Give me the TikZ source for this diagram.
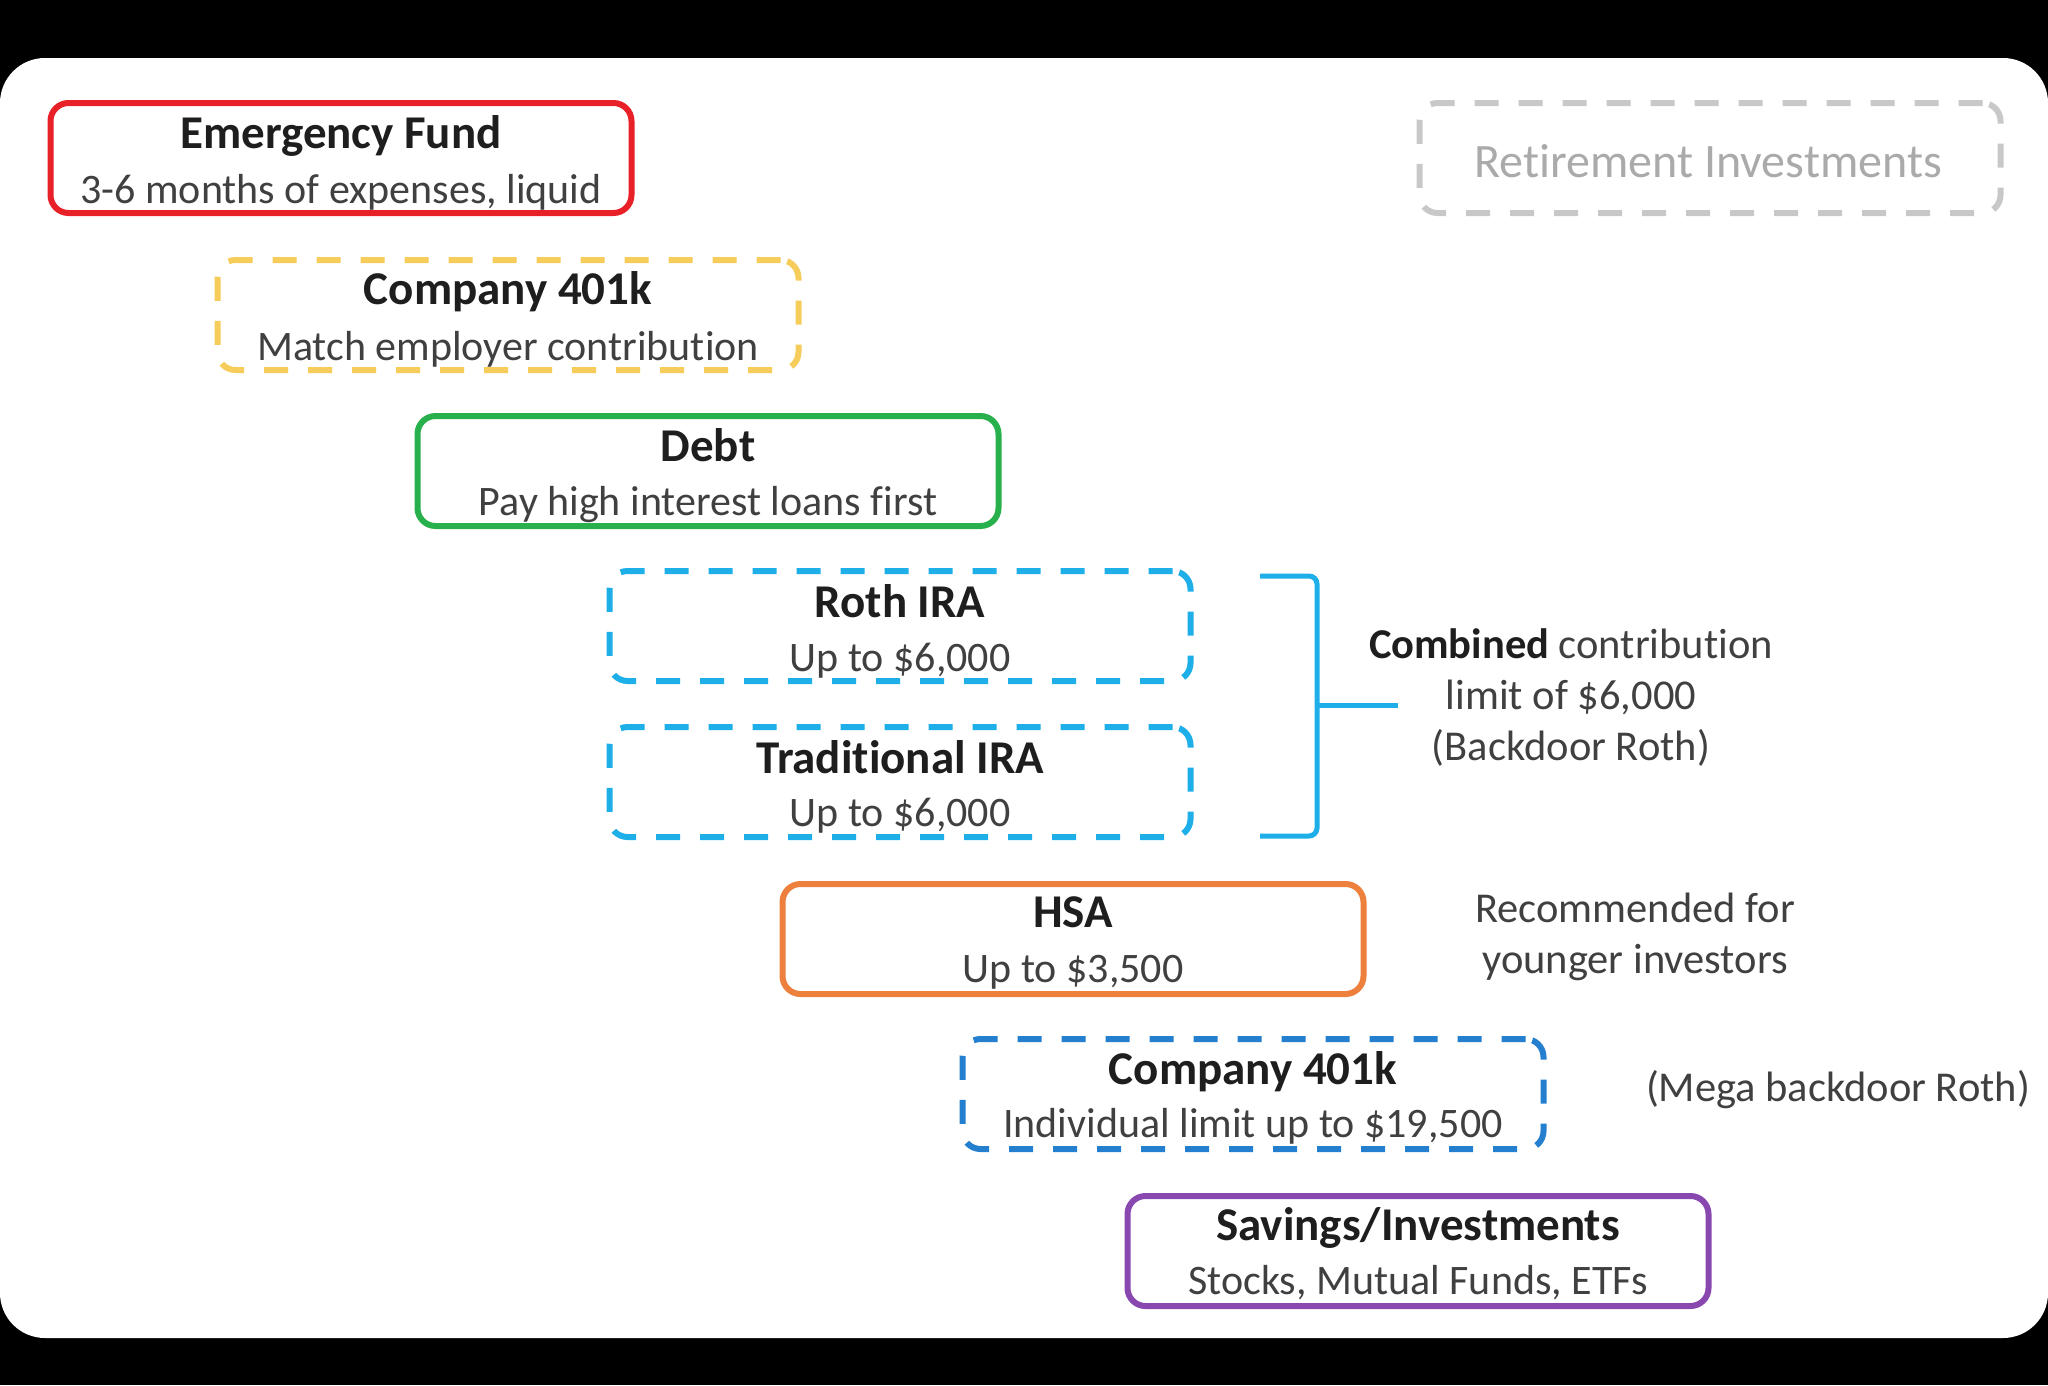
\documentclass[tikz,border=0pt]{standalone}
\usepackage{fontspec}
\setmainfont[Ligatures=NoCommon]{Carlito}
\definecolor{cred}{RGB}{232,32,40}
\definecolor{cyel}{RGB}{246,205,90}
\definecolor{cgreen}{RGB}{40,176,76}
\definecolor{clblue}{RGB}{30,174,232}
\definecolor{corange}{RGB}{237,128,60}
\definecolor{cblue}{RGB}{36,128,206}
\definecolor{cpurple}{RGB}{136,72,176}
\definecolor{cgray}{RGB}{200,200,200}
\definecolor{ctitle}{RGB}{30,30,30}
\definecolor{csub}{RGB}{64,64,64}
\begin{document}
\begin{tikzpicture}[x=1pt,y=-1pt,
  box/.style={draw, line width=6pt, rounded corners=18pt, minimum width=581pt, minimum height=110pt, inner sep=0pt},
  dashbox/.style={box, dash pattern=on 24pt off 20pt},
  ttl/.style={font=\fontsize{47}{52}\selectfont\bfseries, text=ctitle, inner sep=0pt, anchor=base},
  sub/.style={font=\fontsize{42}{48}\selectfont, text=csub, inner sep=0pt, anchor=base},
  note/.style={font=\fontsize{42.5}{51}\selectfont, text=csub, inner sep=0pt, align=center}
]
\useasboundingbox (0,0) rectangle (2048,1385);
\fill[black] (0,0) rectangle (2048,1385);
\fill[white, rounded corners=45pt] (0,58) rectangle (2048,1338);

% boxes
\node[box, draw=cred] (ef) at (341,158) {};
\node[ttl] (eft) at (341,148) {Emergency Fund};
\node[sub] (efs) at (341,203) {3-6 months of expenses, liquid};

\node[dashbox, draw=cyel] (ck) at (508,315) {};
\node[ttl] (ckt) at (508,304) {Company 401k};
\node[sub] (cks) at (508,360) {Match employer contribution};

\node[box, draw=cgreen] (debt) at (708,471) {};
\node[ttl] (debtt) at (708,461) {Debt};
\node[sub] (debts) at (708,515) {Pay high interest loans first};

\node[dashbox, draw=clblue] (roth) at (900,626) {};
\node[ttl] (rotht) at (900,617) {Roth IRA};
\node[sub] (roths) at (900,671) {Up to \$6,000};

\node[dashbox, draw=clblue] (trad) at (900,782) {};
\node[ttl] (tradt) at (900,773) {Traditional IRA};
\node[sub] (trads) at (900,826) {Up to \$6,000};

\node[box, draw=corange] (hsa) at (1073,939) {};
\node[ttl] (hsat) at (1073,927) {HSA};
\node[sub] (hsas) at (1073,982) {Up to \$3,500};

\node[dashbox, draw=cblue] (ck2) at (1253,1094) {};
\node[ttl] (ck2t) at (1253,1084) {Company 401k};
\node[sub] (ck2s) at (1253,1137) {Individual limit up to \$19,500};

\node[box, draw=cpurple] (sav) at (1418,1251) {};
\node[ttl] (savt) at (1418,1240) {Savings/Investments};
\node[sub] (savs) at (1418,1294) {Stocks, Mutual Funds, ETFs};

\node[dashbox, draw=cgray] (ret) at (1710,158) {};
\node[font=\fontsize{48}{54}\selectfont, text=cgray!85!black, inner sep=0pt] (rett) at (1708,161) {Retirement Investments};

% bracket
\coordinate (bt) at (1260,576);
\coordinate (bb) at (1260,836);
\coordinate (btip) at (1398,705);
\draw[clblue, line width=5pt, rounded corners=8pt] (bt) -- (1317,576) -- (1317,836) -- (bb);
\draw[clblue, line width=5pt] (1317,705) -- (btip);

% notes
\node[note] (comb) at (1571,698) {\textbf{\color{ctitle}Combined} contribution\\limit of \$6,000\\(Backdoor Roth)};
\node[note] (rec) at (1635,937) {Recommended for\\younger investors};
\node[note] (mega) at (1838,1090) {(Mega backdoor Roth)};
\end{tikzpicture}
\end{document}
